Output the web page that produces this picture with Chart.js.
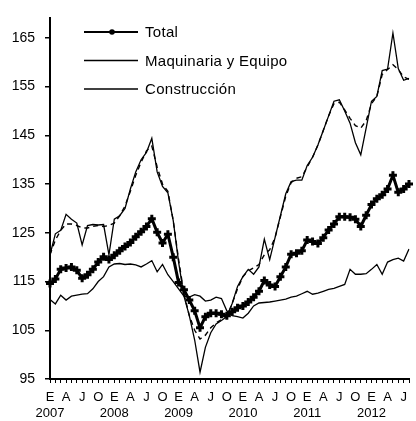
<!DOCTYPE html>
<html lang="es">
<head>
<meta charset="utf-8">
<title>Inversión: Total, Maquinaria y Equipo, Construcción</title>
<script src="https://cdn.jsdelivr.net/npm/chart.js@4.4.1/dist/chart.umd.min.js"></script>
<style>
  html, body { margin: 0; padding: 0; background: #fff; }
  #wrap { width: 416px; height: 421px; }
</style>
</head>
<body>
<div id="wrap"><canvas id="grafico" width="416" height="421"></canvas></div>
<script>
// serie mensual ene-2007 .. ago-2012
const anios = ['2007', '2008', '2009', '2010', '2011', '2012'];
const letrasTrimestre = ['E', 'A', 'J', 'O'];
const ultimoMes2012 = 8;
const yTicks = [95, 105, 115, 125, 135, 145, 155, 165];

const total = [
  114.6, 115.5, 117.5, 117.8, 118.0, 117.3, 115.7, 116.4, 117.5, 119.0, 120.1, 119.5,
  120.4, 121.3, 122.2, 123.0, 124.2, 125.2, 126.3, 127.9, 125.1, 122.9, 124.7, 120.0,
  114.8, 113.3, 111.2, 109.0, 105.5, 107.8, 108.5, 108.5, 108.3, 108.0, 108.8, 109.6,
  110.0, 110.8, 111.8, 113.0, 115.2, 114.3, 114.0, 116.0, 118.0, 120.6, 120.8, 121.3,
  123.5, 123.2, 122.8, 124.0, 125.6, 126.8, 128.3, 128.3, 128.2, 127.8, 126.3, 128.6,
  130.8, 132.0, 132.8, 134.0, 136.8, 133.3, 134.0, 135.0
];

const maquinaria = [
  120.5, 124.8, 125.5, 128.8, 127.8, 127.0, 122.5, 126.5, 126.7, 126.6, 126.7, 120.5,
  127.8, 128.5, 130.0, 134.0, 137.5, 140.0, 141.5, 144.4, 137.5, 134.5, 133.2, 127.5,
  119.0, 112.0, 108.0, 103.0, 96.4, 101.5, 104.5, 106.3, 107.0, 107.8, 110.5, 114.0,
  116.0, 117.5, 116.5, 118.0, 123.7, 119.5, 124.0, 128.5, 133.0, 135.5, 135.8, 135.8,
  138.8, 140.5, 143.0, 146.0, 149.0, 152.0, 152.3, 150.0, 147.5, 143.5, 141.0, 146.5,
  152.0, 153.0, 158.3, 158.6, 166.0, 158.7, 156.3, 156.7
];

// componente tendencia de maquinaria (linea discontinua)
const maquinariaTend = [
  120.5, 123.5, 125.5, 126.8, 126.8, 126.5, 126.0, 126.0, 126.3, 126.5, 126.3, 126.5,
  127.0, 128.5, 130.5, 133.5, 136.8, 139.5, 141.8, 142.8, 138.5, 135.0, 133.5, 127.5,
  119.5, 112.5, 108.0, 105.0, 103.2, 104.0, 105.5, 106.5, 107.2, 107.8, 110.5, 113.5,
  116.0, 117.2, 117.8, 118.5, 120.5, 121.5, 124.0, 128.3, 132.5, 135.3, 136.2, 136.5,
  138.5, 140.5, 143.0, 146.0, 149.0, 151.5, 151.8, 150.2, 148.5, 147.0, 146.5, 148.0,
  151.5, 153.0, 157.5, 158.5, 159.5, 158.5, 157.0, 156.5
];

const construccion = [
  111.3, 110.4, 112.2, 111.2, 112.0, 112.2, 112.4, 112.5, 113.5, 115.0, 116.0, 118.0,
  118.6, 118.7, 118.5, 118.6, 118.4, 118.0, 118.6, 119.3, 117.0, 118.5, 116.4, 115.0,
  113.5, 112.0, 111.8, 112.3, 112.0, 111.0, 111.2, 111.8, 111.5, 109.0, 108.0, 107.8,
  107.5, 108.5, 110.0, 110.6, 110.7, 110.8, 111.0, 111.2, 111.4, 111.8, 112.0, 112.5,
  113.0, 112.4, 112.6, 113.0, 113.4, 113.6, 114.0, 114.4, 117.5, 116.5, 116.5, 116.6,
  117.5, 118.5, 116.5, 119.0, 119.5, 119.8, 119.2, 121.7
];

// etiquetas de categoria "2007-01" ...
const meses = [];
anios.forEach((a, i) => {
  const n = i === anios.length - 1 ? ultimoMes2012 : 12;
  for (let m = 1; m <= n; m++) meses.push(a + '-' + String(m).padStart(2, '0'));
});

const FUENTE = '"Liberation Sans", Arial, Helvetica, sans-serif';

// leyenda dentro del area del grafico, arriba a la izquierda
const leyendaInterna = {
  id: 'leyendaInterna',
  afterDatasetsDraw(chart) {
    const ctx = chart.ctx;
    const filas = [0, 1, 3];
    ctx.save();
    ctx.font = '15px ' + FUENTE;
    ctx.letterSpacing = '0.3px';
    ctx.fillStyle = '#000';
    ctx.textBaseline = 'middle';
    filas.forEach((idx, k) => {
      const ds = chart.data.datasets[idx];
      const y = 32 + k * 28.5;
      ctx.strokeStyle = '#000';
      ctx.lineWidth = Math.min(ds.borderWidth, 2);
      ctx.setLineDash([]);
      ctx.beginPath();
      ctx.moveTo(84, y);
      ctx.lineTo(138, y);
      ctx.stroke();
      if (ds.pointRadius > 0) {
        ctx.beginPath();
        ctx.arc(112, y, 2.8, 0, Math.PI * 2);
        ctx.fill();
      }
      ctx.fillText(ds.label, 145, y + 1);
    });
    ctx.restore();
  }
};

new Chart(document.getElementById('grafico'), {
  type: 'line',
  data: {
    labels: meses,
    datasets: [
      {
        label: 'Total',
        data: total,
        borderColor: '#000',
        backgroundColor: '#000',
        borderWidth: 3,
        pointStyle: 'cross',
        pointRadius: 4,
        pointBorderWidth: 3,
        tension: 0
      },
      {
        label: 'Maquinaria y Equipo',
        data: maquinaria,
        borderColor: '#000',
        borderWidth: 1.3,
        pointRadius: 0,
        tension: 0
      },
      {
        label: 'Maquinaria y Equipo (tendencia)',
        data: maquinariaTend,
        borderColor: '#000',
        borderWidth: 1.4,
        borderDash: [5, 4],
        pointRadius: 0,
        tension: 0
      },
      {
        label: 'Construcción',
        data: construccion,
        borderColor: '#000',
        borderWidth: 1.3,
        pointRadius: 0,
        tension: 0
      }
    ]
  },
  options: {
    responsive: false,
    animation: false,
    devicePixelRatio: 1,
    events: [],
    layout: { padding: { top: 13, right: 6, left: 0, bottom: 0 } },
    plugins: {
      legend: { display: false },
      tooltip: { enabled: false }
    },
    scales: {
      x: {
        type: 'category',
        offset: false,
        afterFit: (scale) => { scale.height = 42; },
        border: { color: '#000', width: 2 },
        grid: {
          drawOnChartArea: false,
          drawTicks: true,
          tickLength: 4,
          color: '#000',
          lineWidth: 1
        },
        ticks: {
          autoSkip: false,
          maxRotation: 0,
          minRotation: 0,
          padding: 6,
          color: '#000',
          font: { family: FUENTE, size: 13, lineHeight: 1.25 },
          callback: function (value, index) {
            const mes = index % 12;
            if (mes % 3 !== 0) return '';
            const letra = letrasTrimestre[mes / 3];
            return mes === 0 ? [letra, anios[index / 12]] : letra;
          }
        }
      },
      y: {
        type: 'linear',
        min: 95,
        max: 169,
        afterFit: (scale) => { scale.width = 50; },
        afterBuildTicks: (scale) => { scale.ticks = yTicks.map(v => ({ value: v })); },
        border: { color: '#000', width: 2 },
        grid: {
          drawOnChartArea: false,
          drawTicks: true,
          tickLength: 5,
          color: '#000',
          lineWidth: 1.5
        },
        ticks: {
          padding: 10,
          color: '#000',
          font: { family: FUENTE, size: 14 }
        }
      }
    }
  },
  plugins: [leyendaInterna]
});
</script>
</body>
</html>
